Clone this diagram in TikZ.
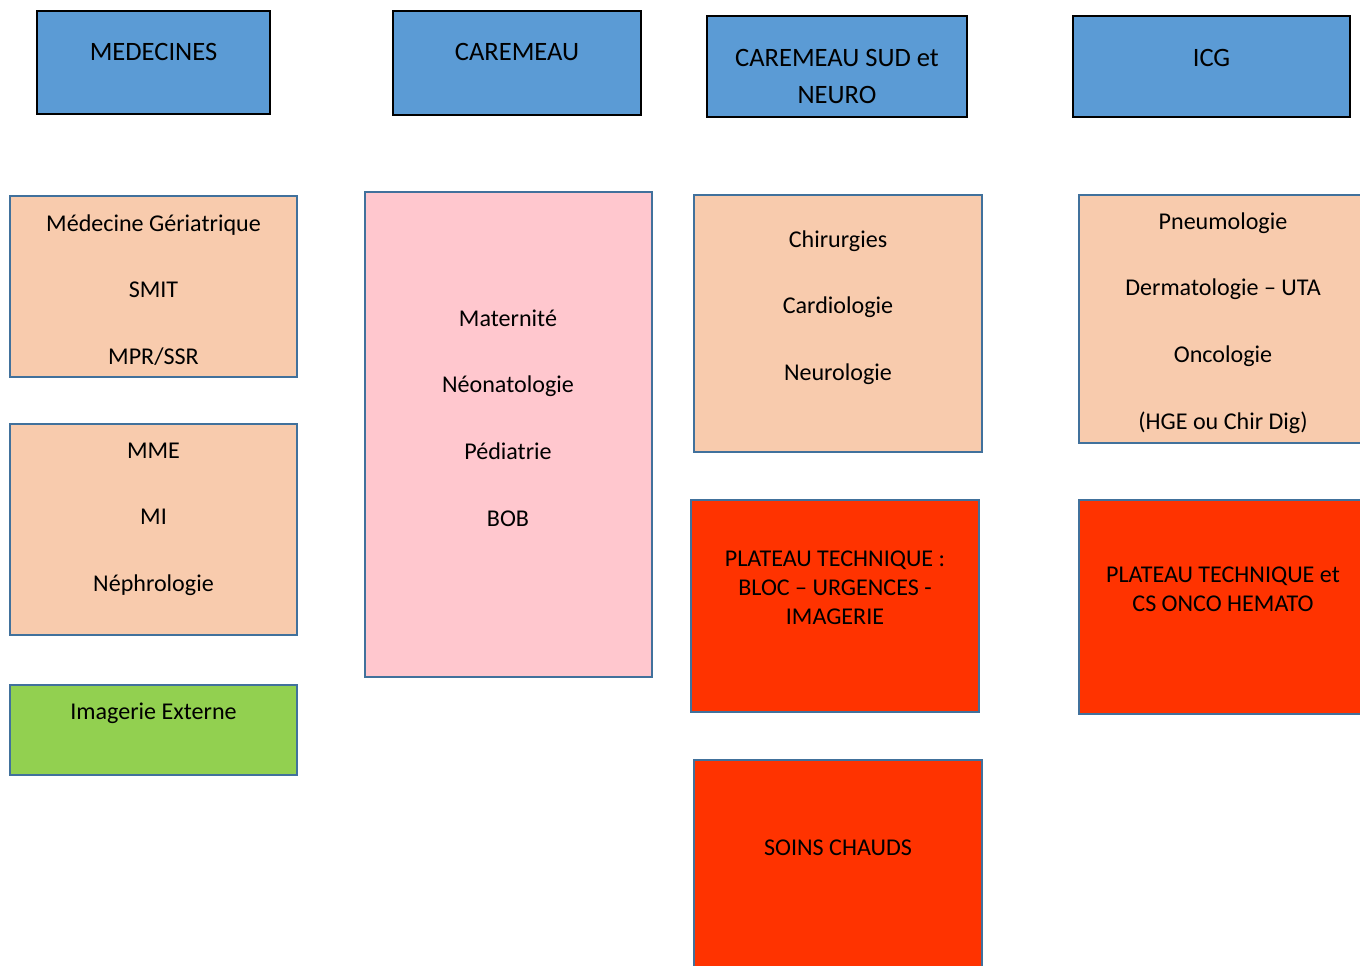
\documentclass[tikz,border=0pt]{standalone}
\usepackage{fontspec}
\setmainfont{Carlito}
\usetikzlibrary{positioning}

\definecolor{hdrblue}{HTML}{5B9BD5}
\definecolor{peach}{HTML}{F8CBAD}
\definecolor{pinkish}{HTML}{FFC7CE}
\definecolor{hotred}{HTML}{FF3300}
\definecolor{lime}{HTML}{92D050}
\definecolor{edgeblue}{HTML}{41719C}

\begin{document}
\begin{tikzpicture}[x=0.02cm,y=-0.02cm,
    hdr/.style={draw=black,line width=1.1pt,fill=hdrblue,inner sep=0,outer sep=0},
    pole/.style={draw=edgeblue,line width=1.4pt,inner sep=0,outer sep=0},
    hdrtext/.style={align=center,inner sep=0,font=\fontsize{15.1}{21}\selectfont},
    listtext/.style={align=center,inner sep=0,font=\fontsize{13.7}{37.9}\selectfont},
    redtext/.style={align=center,inner sep=0,font=\fontsize{13.7}{16.5}\selectfont}]
  \useasboundingbox (0,0) rectangle (1360,966);
  \clip (0,0) rectangle (1360,966);

  % headers
  \node[hdr,minimum width=233*0.02cm,minimum height=103*0.02cm] (medecines) at (153.5,62.5) {};
  \node[hdr,minimum width=248*0.02cm,minimum height=104*0.02cm] (caremeau) at (517,63) {};
  \node[hdr,minimum width=260*0.02cm,minimum height=101*0.02cm] (sud) at (837,66.5) {};
  \node[hdr,minimum width=277*0.02cm,minimum height=101*0.02cm] (icg) at (1211.5,66.5) {};
  \node[hdrtext] (medecinesT) at (153.5,52) {MEDECINES};
  \node[hdrtext] (caremeauT) at (517,52) {CAREMEAU};
  \node[hdrtext] (sudT) at (837,76.5) {CAREMEAU SUD et\\NEURO};
  \node[hdrtext] (icgT) at (1211.5,58) {ICG};

  % services
  \node[pole,fill=peach,minimum width=287*0.02cm,minimum height=181*0.02cm] (geria) at (153.5,286.5) {};
  \node[pole,fill=peach,minimum width=287*0.02cm,minimum height=211*0.02cm] (mme) at (153.5,529.5) {};
  \node[pole,fill=lime,minimum width=287*0.02cm,minimum height=90*0.02cm] (imgext) at (153.5,730) {};
  \node[pole,fill=pinkish,minimum width=287*0.02cm,minimum height=485*0.02cm] (mater) at (508.5,434.5) {};
  \node[pole,fill=peach,minimum width=288*0.02cm,minimum height=257*0.02cm] (chir) at (838,323.5) {};
  \node[pole,fill=peach,minimum width=288*0.02cm,minimum height=248*0.02cm] (pneumo) at (1223,319) {};
  \node[pole,fill=hotred,minimum width=288*0.02cm,minimum height=212*0.02cm] (plateau) at (835,606) {};
  \node[pole,fill=hotred,minimum width=288*0.02cm,minimum height=214*0.02cm] (onco) at (1223,607) {};
  \node[pole,fill=hotred,minimum width=288*0.02cm,minimum height=240*0.02cm] (soins) at (838,880) {};

  \node[listtext] (geriaT) at (153.5,290) {Médecine Gériatrique\\SMIT\\MPR/SSR};
  \node[listtext] (mmeT) at (153.5,519) {MME\\MI\\Néphrologie};
  \node[listtext] (imgextT) at (153.5,713) {Imagerie Externe};
  \node[listtext] (materT) at (508,418) {Maternité\\Néonatologie\\Pédiatrie\\BOB};
  \node[listtext] (chirT) at (838,307.5) {Chirurgies\\Cardiologie\\Neurologie};
  \node[listtext] (pneumoT) at (1223,323) {Pneumologie\\Dermatologie – UTA\\Oncologie\\(HGE ou Chir Dig)};
  \node[redtext] (plateauT) at (835,588) {PLATEAU TECHNIQUE :\\BLOC – URGENCES -\\IMAGERIE};
  \node[redtext] (oncoT) at (1223,589.5) {PLATEAU TECHNIQUE et\\CS ONCO HEMATO};
  \node[redtext] (soinsT) at (838,848) {SOINS CHAUDS};
\end{tikzpicture}
\end{document}
